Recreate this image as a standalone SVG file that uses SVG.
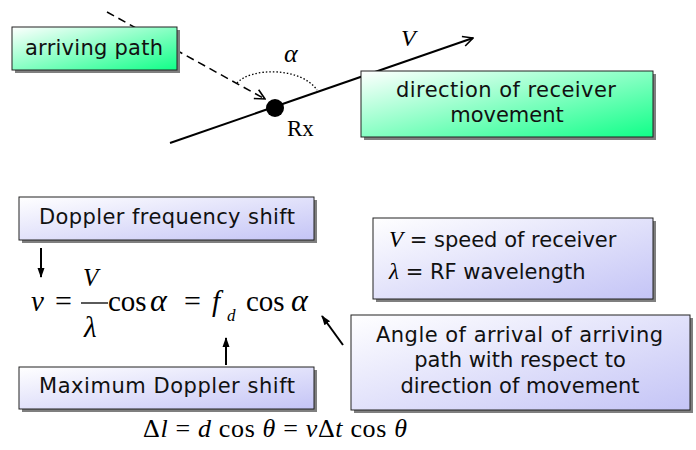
<svg xmlns="http://www.w3.org/2000/svg" width="696" height="450" viewBox="0 0 696 450">
<defs>
<linearGradient id="gGreen" x1="0" y1="0" x2="1" y2="1">
<stop offset="0" stop-color="#ffffff"/>
<stop offset="1" stop-color="#10ff88"/>
</linearGradient>
<linearGradient id="gBlue" x1="0" y1="0" x2="1" y2="1">
<stop offset="0" stop-color="#ffffff"/>
<stop offset="1" stop-color="#c4c4f6"/>
</linearGradient>
<marker id="open" viewBox="0 0 12 12" refX="11" refY="6" markerWidth="12" markerHeight="12" markerUnits="userSpaceOnUse" orient="auto">
<path d="M1,1 L11,6 L1,11" fill="none" stroke="#000" stroke-width="1.6"/>
</marker>
<marker id="solid" viewBox="0 0 10 10" refX="9" refY="5" markerWidth="10" markerHeight="10" markerUnits="userSpaceOnUse" orient="auto">
<path d="M0,1.5 L10,5 L0,8.5 z" fill="#000"/>
</marker>
</defs>
<style>
.shadow{fill:#7f7f7f}
.box{stroke:#222;stroke-width:1}
.lbl{font-family:"DejaVu Sans",Verdana,sans-serif;font-size:21px;fill:#111}
.math{font-family:"Liberation Serif","Times New Roman",serif;fill:#000}
.it{font-style:italic}
.conn{stroke:#000;fill:none}
</style>

<g id="connectors">
<line class="conn" x1="107" y1="12" x2="265" y2="99" stroke-width="1.5" stroke-dasharray="8,5" marker-end="url(#open)"/>
<line class="conn" x1="170" y1="143" x2="473" y2="38" stroke-width="2" marker-end="url(#open)"/>
<path class="conn" d="M237,83 C250,68 300,66 317,90" stroke-width="1.3" stroke-dasharray="1.5,2"/>
<line class="conn" x1="41" y1="248" x2="41" y2="277" stroke-width="2" marker-end="url(#solid)"/>
<line class="conn" x1="226" y1="365" x2="226" y2="338" stroke-width="2" marker-end="url(#solid)"/>
<line class="conn" x1="343" y1="345" x2="322" y2="316" stroke-width="2" marker-end="url(#solid)"/>
</g>

<g id="rx">
<circle cx="275" cy="108" r="9" fill="#000"/>
<text class="math" x="287" y="136" font-size="23">Rx</text>
</g>
<g id="alpha-label"><text class="math it" x="284" y="62" font-size="26">α</text></g>
<g id="v-label"><text class="math it" x="401" y="46" font-size="24">V</text></g>

<g id="arriving-path">
<rect class="shadow" x="15" y="30" width="165" height="43"/>
<rect class="box" x="12" y="27" width="165" height="43" fill="url(#gGreen)"/>
<text class="lbl" x="25" y="55" textLength="138">arriving path</text>
</g>

<g id="direction-box">
<rect class="shadow" x="364" y="74" width="292" height="66"/>
<rect class="box" x="361" y="71" width="292" height="66" fill="url(#gGreen)"/>
<text class="lbl" x="396" y="97" textLength="220">direction of receiver</text>
<text class="lbl" x="507" y="122" text-anchor="middle">movement</text>
</g>

<g id="doppler-box">
<rect class="shadow" x="22" y="200" width="295" height="43"/>
<rect class="box" x="19" y="197" width="295" height="43" fill="url(#gBlue)"/>
<text class="lbl" x="39" y="224" textLength="256">Doppler frequency shift</text>
</g>

<g id="max-box">
<rect class="shadow" x="22" y="370" width="295" height="42"/>
<rect class="box" x="19" y="367" width="295" height="42" fill="url(#gBlue)"/>
<text class="lbl" x="39" y="393" textLength="256">Maximum Doppler shift</text>
</g>

<g id="legend-box">
<rect class="shadow" x="376" y="221" width="280" height="81"/>
<rect class="box" x="373" y="218" width="280" height="81" fill="url(#gBlue)"/>
<text class="lbl" x="389" y="247"><tspan class="math it" font-size="23">V</tspan> = speed of receiver</text>
<text class="lbl" x="389" y="279"><tspan class="math it" font-size="23">λ</tspan> = RF wavelength</text>
</g>

<g id="angle-box">
<rect class="shadow" x="354" y="318" width="339" height="95"/>
<rect class="box" x="351" y="315" width="339" height="95" fill="url(#gBlue)"/>
<text class="lbl" x="376" y="342" textLength="287">Angle of arrival of arriving</text>
<text class="lbl" x="520" y="367" text-anchor="middle">path with respect to</text>
<text class="lbl" x="520" y="393" text-anchor="middle">direction of movement</text>
</g>

<g id="formula">
<text class="math it" x="31" y="311" font-size="29">ν</text>
<text class="math" x="55" y="311" font-size="30">=</text>
<text class="math it" x="83" y="286" font-size="25">V</text>
<line x1="81" y1="303" x2="108" y2="303" stroke="#000" stroke-width="1.3"/>
<text class="math it" x="84" y="337" font-size="29">λ</text>
<text class="math" x="108" y="311" font-size="29">cos</text>
<text class="math it" x="150" y="311" font-size="32">α</text>
<text class="math" x="184" y="311" font-size="30">=</text>
<text class="math it" x="212" y="311" font-size="29">f</text>
<text class="math it" x="227" y="321" font-size="17">d</text>
<text class="math" x="246" y="311" font-size="29">cos</text>
<text class="math it" x="291" y="311" font-size="32">α</text>
</g>

<g id="formula2">
<text class="math" x="143" y="437" font-size="26" textLength="264">Δ<tspan class="it">l</tspan> = <tspan class="it">d</tspan> cos <tspan class="it">θ</tspan> = <tspan class="it">ν</tspan>Δ<tspan class="it">t</tspan> cos <tspan class="it">θ</tspan></text>
</g>
</svg>
